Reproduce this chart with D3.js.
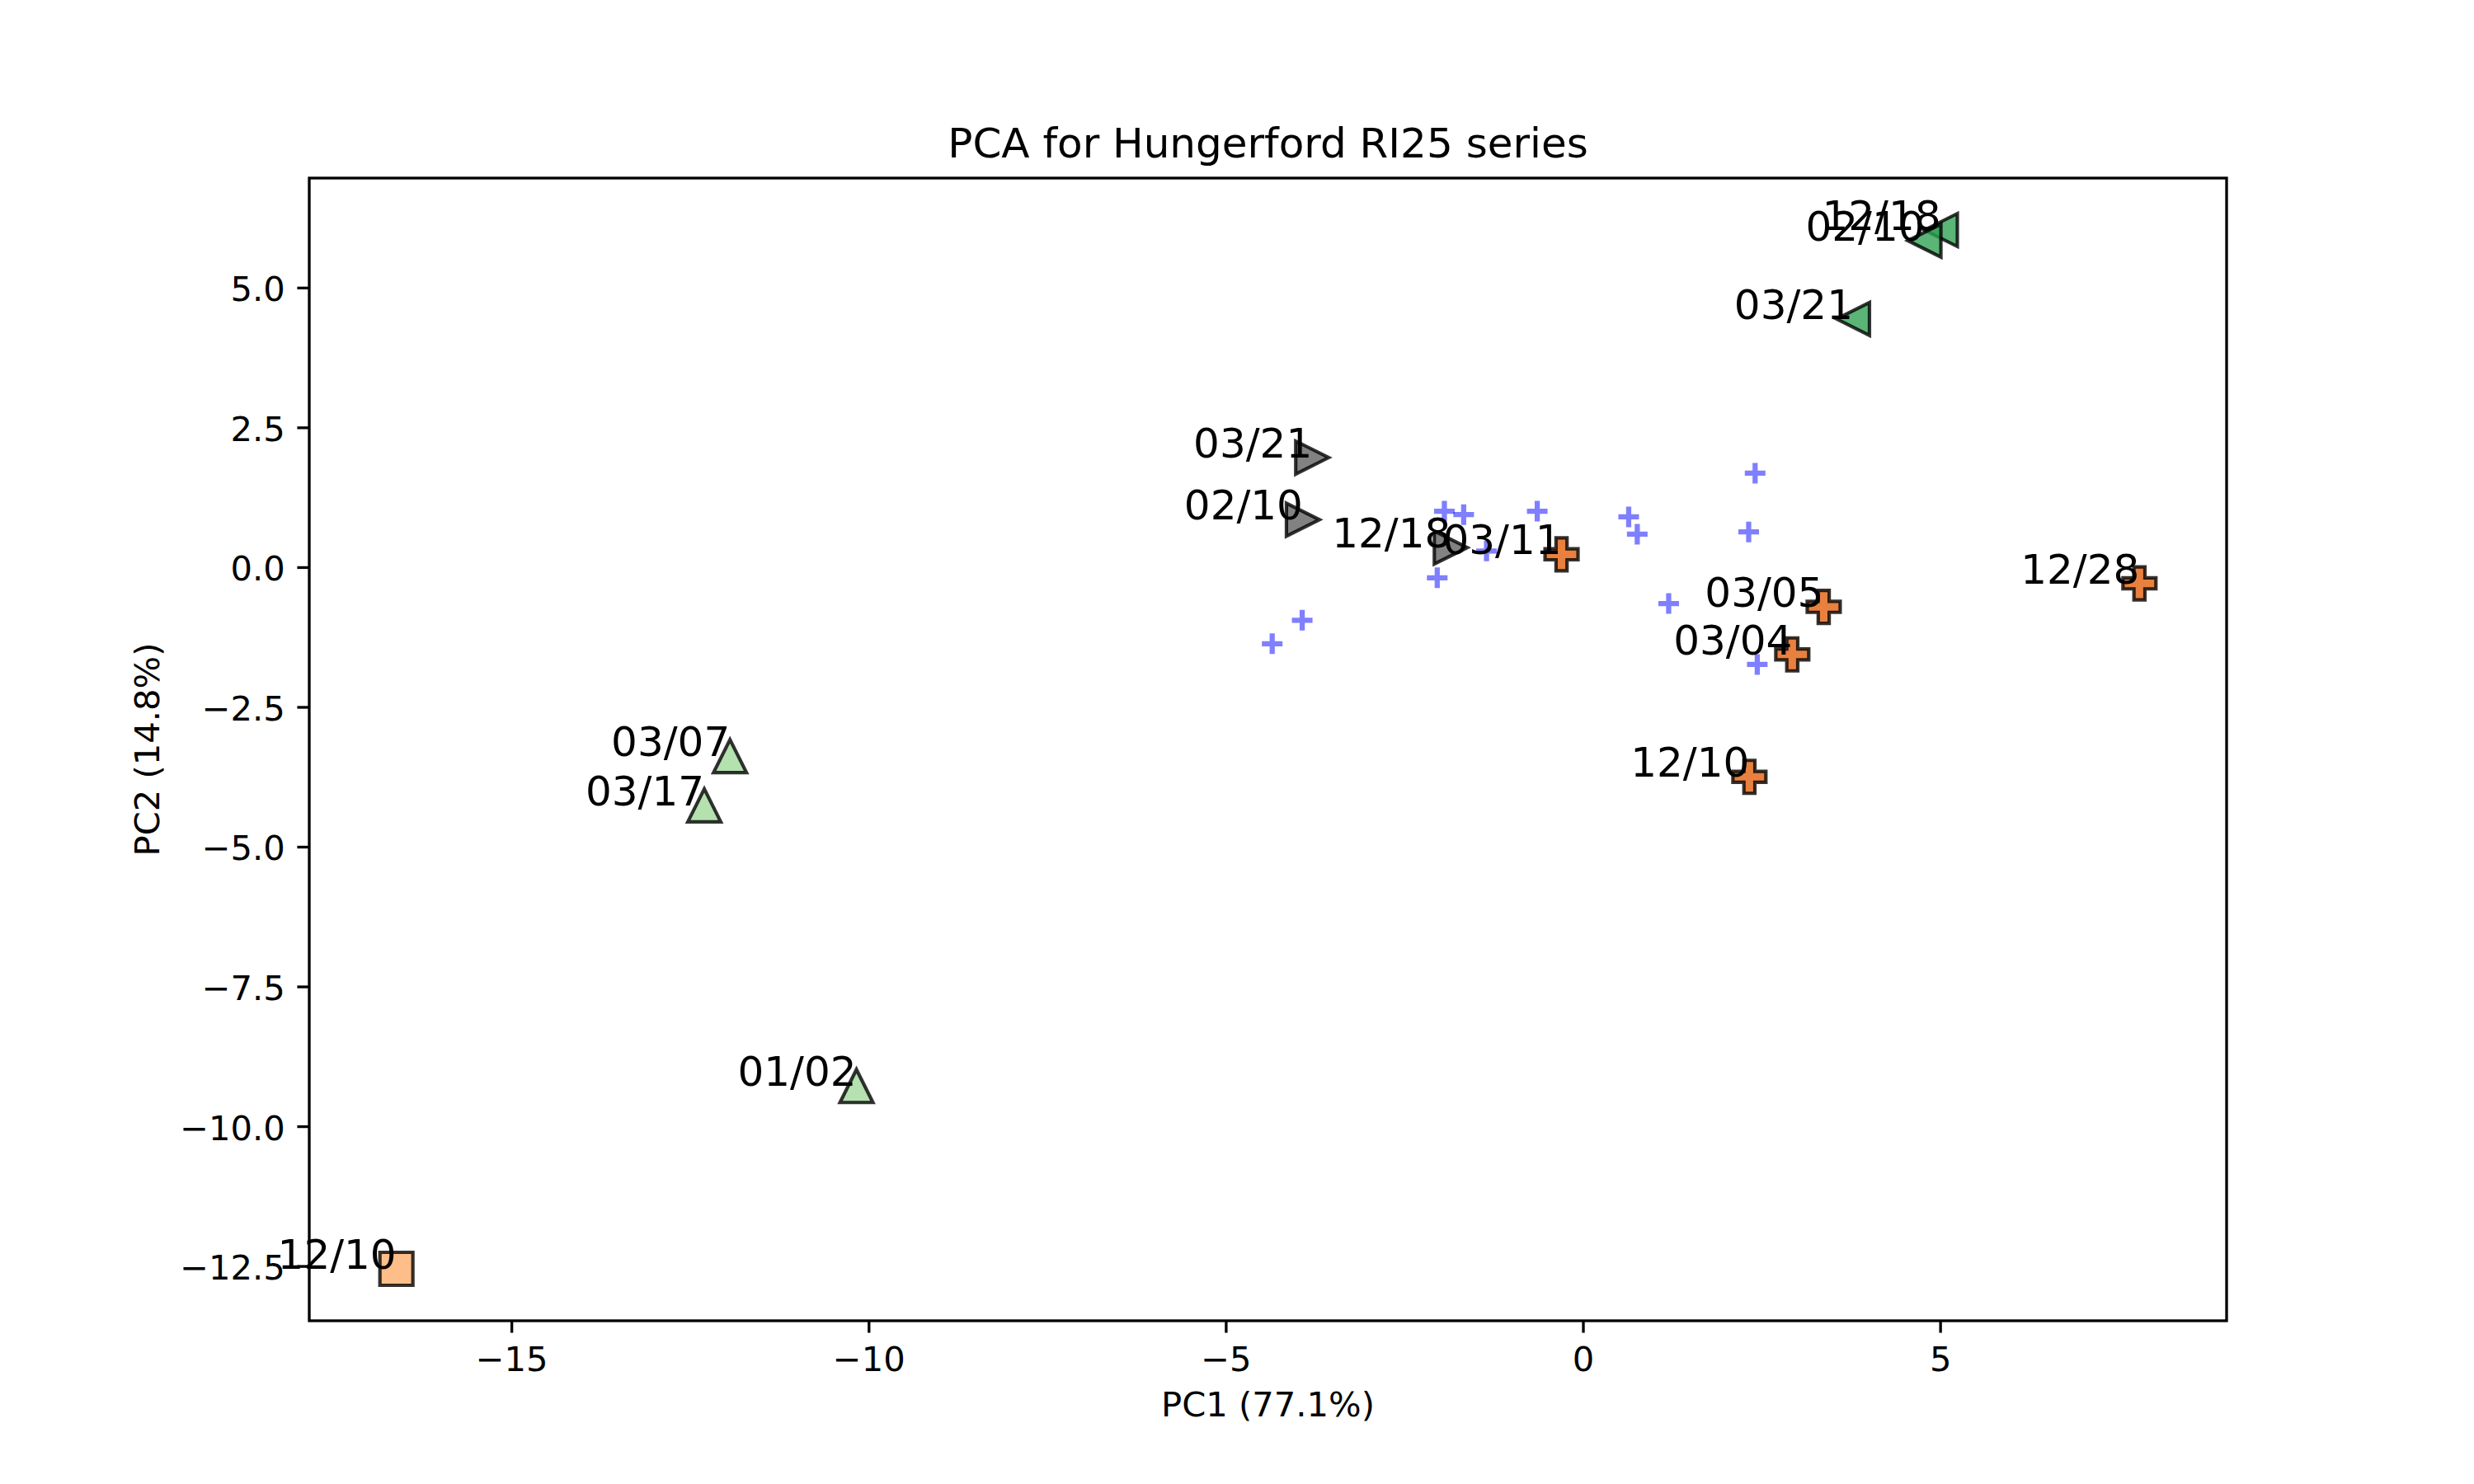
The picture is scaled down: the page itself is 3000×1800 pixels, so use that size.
<!DOCTYPE html>
<html lang="en">
<head>
    <meta charset="UTF-8">
    <title>PCA for Hungerford RI25 series</title>
    <script src="https://d3js.org/d3.v7.min.js"></script>
    <style>
        body { margin: 0; background: #fff; }
        text { font-family: "DejaVu Sans", sans-serif; }
    </style>
</head>
<body>
    <div id="chart"></div>

    <script>
        // sample scores, one array per group: [label, PC1, PC2]
        const ptsDarkGreen = [["12/18", 5.01, 6.03], ["02/10", 4.78, 5.84], ["03/21", 3.78, 4.44]];
        const ptsGrey = [["03/21", -3.79, 1.96], ["02/10", -3.92, 0.85], ["12/18", -1.85, 0.35]];
        const ptsOrange = [["03/11", -0.30, 0.23], ["03/05", 3.37, -0.71], ["03/04", 2.93, -1.56],
                           ["12/28", 7.79, -0.29], ["12/10", 2.33, -3.75]];
        const ptsLightGreen = [["03/07", -11.94, -3.38], ["03/17", -12.30, -4.26], ["01/02", -10.17, -9.28]];
        const ptsLightOrange = [["12/10", -16.61, -12.55]];

        // variable loadings (small blue crosses): [PC1, PC2]
        const loadings = [[-4.35, -1.37], [-3.93, -0.95], [-1.94, 1.00], [-1.67, 0.94], [-0.64, 1.00],
                          [-2.04, -0.19], [-1.35, 0.29], [2.41, 1.68], [0.64, 0.90], [0.76, 0.59],
                          [2.32, 0.63], [1.20, -0.65], [2.44, -1.74]];

        const xTicks = [-15, -10, -5, 0, 5];
        const yTicks = [5, 2.5, 0, -2.5, -5, -7.5, -10, -12.5];

        const titleText = "PCA for Hungerford RI25 series";
        const xLabel = "PC1 (77.1%)";
        const yLabel = "PC2 (14.8%)";

        // marker style per group
        const groups = [
            { pts: ptsDarkGreen, marker: "left", color: "#31a354" },
            { pts: ptsGrey, marker: "right", color: "#636363" },
            { pts: ptsOrange, marker: "plus", color: "#e2600f" },
            { pts: ptsLightGreen, marker: "up", color: "#a1d99b" },
            { pts: ptsLightOrange, marker: "square", color: "#fdae6b" }
        ];

        const W = 3000, H = 1800, pt = 300 / 72;
        const margin = { left: 375, right: 300, top: 216, bottom: 198 };
        const iw = W - margin.left - margin.right;
        const ih = H - margin.top - margin.bottom;
        const markerSize = 40;

        const svg = d3.select("#chart")
            .append("svg")
            .attr("width", W)
            .attr("height", H);

        const g = svg.append("g").attr("transform", `translate(${margin.left}, ${margin.top})`);

        // autoscale like matplotlib: data extent + 5% margins
        const allPts = groups.flatMap(d => d.pts);
        const allX = allPts.map(d => d[1]).concat(loadings.map(d => d[0]));
        const allY = allPts.map(d => d[2]).concat(loadings.map(d => d[1]));
        function padded(ext) {
            const m = (ext[1] - ext[0]) * 0.05;
            return [ext[0] - m, ext[1] + m];
        }
        const x = d3.scaleLinear().domain(padded(d3.extent(allX))).range([0, iw]);
        const y = d3.scaleLinear().domain(padded(d3.extent(allY))).range([ih, 0]);

        function markerPath(kind, s) {
            const h = s / 2, p = d3.path();
            if (kind === "square") {
                p.rect(-h, -h, s, s);
            } else if (kind === "up") {
                p.moveTo(0, -h); p.lineTo(h, h); p.lineTo(-h, h); p.closePath();
            } else if (kind === "left") {
                p.moveTo(-h, 0); p.lineTo(h, -h); p.lineTo(h, h); p.closePath();
            } else if (kind === "right") {
                p.moveTo(h, 0); p.lineTo(-h, h); p.lineTo(-h, -h); p.closePath();
            } else if (kind === "plus") {
                const a = s / 6;
                const v = [[-1, -3], [1, -3], [1, -1], [3, -1], [3, 1], [1, 1],
                           [1, 3], [-1, 3], [-1, 1], [-3, 1], [-3, -1], [-1, -1]];
                v.forEach((q, i) => i ? p.lineTo(q[0] * a, q[1] * a) : p.moveTo(q[0] * a, q[1] * a));
                p.closePath();
            }
            return p.toString();
        }

        // axes
        const gx = g.append("g")
            .attr("transform", `translate(0, ${ih})`)
            .call(d3.axisBottom(x).tickValues(xTicks).tickSize(3.5 * pt).tickPadding(3.5 * pt).tickFormat(d3.format("d")));
        gx.select(".domain").remove();
        gx.selectAll("line").attr("stroke", "#000").attr("stroke-width", 0.8 * pt);
        gx.selectAll("text")
            .attr("dy", null)
            .attr("y", 61)
            .attr("fill", "#000")
            .style("font-size", (10 * pt) + "px")
            .style("font-family", '"DejaVu Sans", sans-serif');

        const gy = g.append("g")
            .call(d3.axisLeft(y).tickValues(yTicks).tickSize(3.5 * pt).tickPadding(3.5 * pt).tickFormat(d3.format(".1f")));
        gy.select(".domain").remove();
        gy.selectAll("line").attr("stroke", "#000").attr("stroke-width", 0.8 * pt);
        gy.selectAll("text")
            .attr("dy", "16px")
            .attr("fill", "#000")
            .style("font-size", (10 * pt) + "px")
            .style("font-family", '"DejaVu Sans", sans-serif');

        // loadings
        const cross = 25 / 2;
        g.selectAll("path.loading")
            .data(loadings)
            .enter()
            .append("path")
            .attr("class", "loading")
            .attr("transform", d => `translate(${x(d[0])}, ${y(d[1])})`)
            .attr("d", `M${-cross},0H${cross}M0,${-cross}V${cross}`)
            .attr("stroke", "#0000ff")
            .attr("stroke-opacity", 0.5)
            .attr("stroke-width", 1.5 * pt)
            .attr("fill", "none");

        // sample markers
        groups.forEach(grp => {
            g.selectAll(null)
                .data(grp.pts)
                .enter()
                .append("path")
                .attr("transform", d => `translate(${x(d[1])}, ${y(d[2])})`)
                .attr("d", markerPath(grp.marker, markerSize))
                .attr("fill", grp.color)
                .attr("fill-opacity", 0.8)
                .attr("stroke", "#000")
                .attr("stroke-opacity", 0.8)
                .attr("stroke-width", 1 * pt)
                .attr("stroke-linejoin", "miter");
        });

        // frame
        g.append("rect")
            .attr("width", iw)
            .attr("height", ih)
            .attr("fill", "none")
            .attr("stroke", "#000")
            .attr("stroke-width", 0.8 * pt);

        // point labels
        g.selectAll("text.lbl")
            .data(allPts)
            .enter()
            .append("text")
            .attr("class", "lbl")
            .attr("x", d => x(d[1]))
            .attr("y", d => y(d[2]))
            .attr("text-anchor", "end")
            .style("font-size", (12 * pt) + "px")
            .text(d => d[0]);

        // title and axis labels
        svg.append("text")
            .attr("x", margin.left + iw / 2)
            .attr("y", margin.top - 6 * pt)
            .attr("text-anchor", "middle")
            .style("font-size", (12 * pt) + "px")
            .text(titleText);

        svg.append("text")
            .attr("x", margin.left + iw / 2)
            .attr("y", 1718)
            .attr("text-anchor", "middle")
            .style("font-size", (10 * pt) + "px")
            .text(xLabel);

        svg.append("text")
            .attr("transform", `translate(193, ${margin.top + ih / 2}) rotate(-90)`)
            .attr("text-anchor", "middle")
            .style("font-size", (10 * pt) + "px")
            .text(yLabel);
    </script>
</body>
</html>
